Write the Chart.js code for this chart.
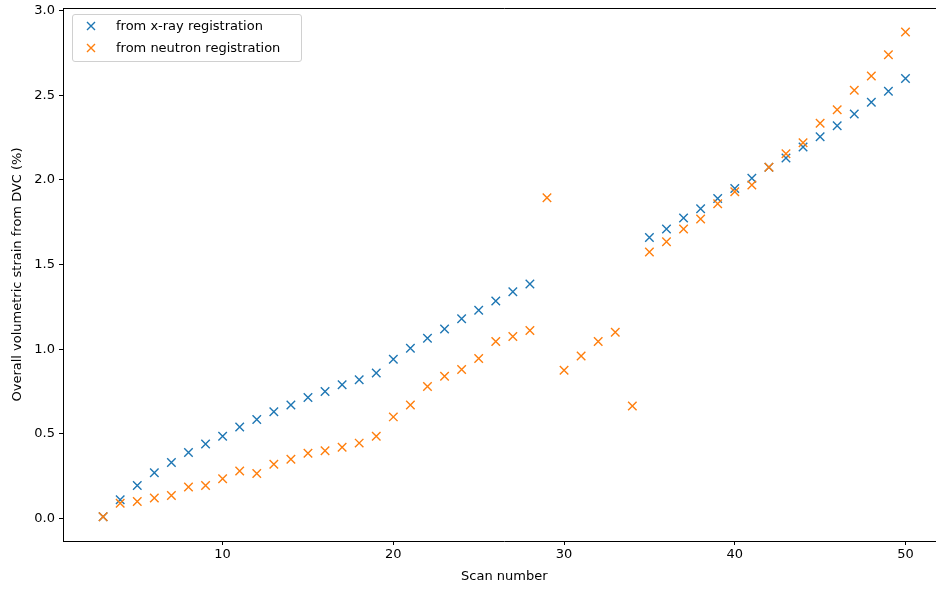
<!DOCTYPE html>
<html>
<head>
<meta charset="utf-8">
<script src="https://cdn.jsdelivr.net/npm/chart.js"></script>
<style>
  body { margin: 0; overflow: hidden; background: #fff; }
  #wrap { position: absolute; left: 0; top: 0; width: 953px; height: 590px; }
  #legend {
    position: absolute; left: 72px; top: 14px; width: 228px; height: 46px;
    border: 1px solid #d0d0d0; border-radius: 3px; background: rgba(255,255,255,0.8);
    font-family: "DejaVu Sans", sans-serif; font-size: 13px; color: #000;
  }
  .row { position: absolute; left: 0; height: 20px; line-height: 20px; }
  .row svg { position: absolute; left: 13px; top: 5px; }
  .row span { position: absolute; left: 43px; white-space: nowrap; }
</style>
</head>
<body>
<div id="wrap">
  <canvas id="myChart" width="953" height="590"></canvas>
  <div id="legend">
    <div class="row" style="top:1px">
      <svg width="10" height="10"><path d="M1 1 L9 9 M9 1 L1 9" stroke="#1f77b4" stroke-width="1.4"/></svg>
      <span>from x-ray registration</span>
    </div>
    <div class="row" style="top:23px">
      <svg width="10" height="10"><path d="M1 1 L9 9 M9 1 L1 9" stroke="#ff7f0e" stroke-width="1.4"/></svg>
      <span>from neutron registration</span>
    </div>
  </div>
</div>
<script>

// datos
const scans = [3,4,5,6,7,8,9,10,11,12,13,14,15,16,17,18,19,20,21,22,23,24,25,26,27,28,29,30,31,32,33,34,35,36,37,38,39,40,41,42,43,44,45,46,47,48,49,50];

// x-ray: no hay valores para 29-34
const xray = [0.01,0.11,0.195,0.27,0.33,0.39,0.44,0.485,0.54,0.585,0.63,0.67,0.715,0.75,0.79,0.82,0.86,0.94,1.005,1.065,1.12,1.18,1.23,1.285,1.34,1.385,
  null,null,null,null,null,null,
  1.66,1.71,1.775,1.83,1.89,1.95,2.01,2.075,2.13,2.195,2.255,2.32,2.39,2.46,2.525,2.60];

const neutron = [0.01,0.09,0.10,0.12,0.135,0.185,0.195,0.235,0.28,0.265,0.32,0.35,0.385,0.40,0.42,0.445,0.485,0.60,0.67,0.78,0.84,0.88,0.945,1.045,1.075,1.11,
  1.895,0.875,0.96,1.045,1.10,0.665,
  1.575,1.635,1.71,1.77,1.86,1.93,1.97,2.075,2.155,2.22,2.335,2.415,2.53,2.615,2.74,2.875];

const xTicks = [10,20,30,40,50];
const yTicks = [0.0,0.5,1.0,1.5,2.0,2.5,3.0];

function toPoints(vals) {
    const pts = [];
    scans.forEach((s, i) => {
        if (vals[i] !== null) pts.push({ x: s, y: vals[i] });
    });
    return pts;
}

// marco superior y derecho como en matplotlib
const frame = {
    id: 'frame',
    afterDraw(chart) {
        const a = chart.chartArea;
        const c = chart.ctx;
        c.save();
        c.strokeStyle = '#000';
        c.lineWidth = 1;
        c.beginPath();
        c.moveTo(a.left, a.top + 0.5);
        c.lineTo(a.right, a.top + 0.5);
        c.lineTo(a.right, a.bottom);
        c.stroke();
        c.restore();
    }
};

const font = { family: 'DejaVu Sans', size: 13 };

new Chart(document.querySelector("#myChart"), {
    type: 'scatter',
    data: {
        datasets: [{
            label: 'from x-ray registration',
            data: toPoints(xray),
            pointStyle: 'crossRot',
            pointRadius: 6,
            pointBorderWidth: 1.4,
            borderColor: '#1f77b4',
            backgroundColor: '#1f77b4',
            order: 1
        }, {
            label: 'from neutron registration',
            data: toPoints(neutron),
            pointStyle: 'crossRot',
            pointRadius: 6,
            pointBorderWidth: 1.4,
            borderColor: '#ff7f0e',
            backgroundColor: '#ff7f0e',
            order: 0
        }]
    },
    options: {
        responsive: false,
        animation: false,
        layout: { padding: { left: 0, top: 8, right: 5, bottom: 0 } },
        plugins: { legend: { display: false }, tooltip: { enabled: false } },
        scales: {
            x: {
                min: 0.65,
                max: 52.35,
                afterBuildTicks: (scale) => { scale.ticks = xTicks.map(v => ({ value: v })); },
                afterFit: (scale) => { scale.height = 49; scale.paddingLeft = 0; scale.paddingRight = 0; },
                grid: { drawOnChartArea: false, drawTicks: true, tickLength: 4, tickColor: '#000' },
                border: { color: '#000', width: 1 },
                ticks: { color: '#000', font: font, padding: 2, maxRotation: 0 },
                title: { display: true, text: 'Scan number', color: '#000', font: font, padding: { top: 0, bottom: 6 } }
            },
            y: {
                min: -0.1335,
                max: 3.0165,
                afterBuildTicks: (scale) => { scale.ticks = yTicks.map(v => ({ value: v })); },
                afterFit: (scale) => { scale.width = 63; scale.paddingTop = 0; scale.paddingBottom = 0; },
                grid: { drawOnChartArea: false, drawTicks: true, tickLength: 4, tickColor: '#000' },
                border: { color: '#000', width: 1 },
                ticks: { color: '#000', font: font, padding: 4, callback: (v) => Number(v).toFixed(1) },
                title: { display: true, text: 'Overall volumetric strain from DVC (%)', color: '#000', font: font, padding: { top: 10, bottom: 0 } }
            }
        }
    },
    plugins: [frame]
});
</script>
</body>
</html>
